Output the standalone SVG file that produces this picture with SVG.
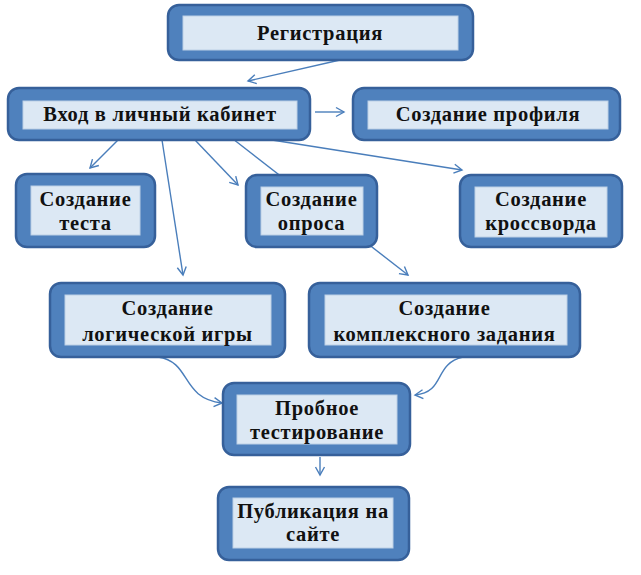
<svg xmlns="http://www.w3.org/2000/svg" width="641" height="575" viewBox="0 0 641 575">
<style>
.o{fill:#4f81bd;stroke:#36609a;stroke-width:2.5}
.i{fill:#dce8f4;stroke:#bcd0e6;stroke-width:1}
.t{font-weight:700;font-size:20.5px;letter-spacing:0.7px;fill:#111;text-anchor:middle}
.c{fill:none;stroke:#4a7ebb;stroke-width:1.4;marker-end:url(#a)}
</style>
<defs>
<marker id="a" markerUnits="userSpaceOnUse" markerWidth="12" markerHeight="12" refX="9" refY="5" orient="auto" viewBox="0 0 12 10">
<path d="M1,0.5 L9,5 L1,9.5" fill="none" stroke="#4a7ebb" stroke-width="1.4"/>
</marker>
</defs>
<rect width="641" height="575" fill="#fff"/>
<g id="connectors">
<line class="c" x1="340" y1="60" x2="248" y2="81"/>
<line class="c" x1="315" y1="112" x2="344" y2="112"/>
<line class="c" x1="118" y1="140" x2="90" y2="168"/>
<line class="c" x1="162" y1="140" x2="183" y2="275"/>
<line class="c" x1="195" y1="140" x2="238" y2="185"/>
<line class="c" x1="233" y1="139" x2="408" y2="275"/>
<line class="c" x1="272" y1="140" x2="462" y2="170"/>
<path class="c" d="M158,357 C192,362 180,398 222,403"/>
<path class="c" d="M463,357 C433,364 446,392 415,395"/>
<line class="c" x1="320" y1="457" x2="320" y2="475"/>
</g>
<g font-family="Liberation Serif, Times New Roman, serif">
<g id="n1"><rect class="o" x="168" y="5" width="305" height="55" rx="11"/><rect class="i" x="183" y="16" width="275" height="34"/><text class="t" font-family="Liberation Serif" x="320" y="40">Регистрация</text></g>
<g id="n2"><rect class="o" x="8" y="88" width="302" height="52" rx="11"/><rect class="i" x="23" y="101" width="274" height="28"/><text class="t" font-family="Liberation Serif" x="160" y="121">Вход в личный кабинет</text></g>
<g id="n3"><rect class="o" x="353" y="88" width="267" height="52" rx="11"/><rect class="i" x="368" y="101" width="240" height="28"/><text class="t" font-family="Liberation Serif" x="488" y="121">Создание профиля</text></g>
<g id="n4"><rect class="o" x="16" y="174" width="139" height="73" rx="11"/><rect class="i" x="31" y="186" width="109" height="49"/><text class="t" font-family="Liberation Serif" x="85.5" y="206">Создание</text><text class="t" font-family="Liberation Serif" x="85.5" y="230">теста</text></g>
<g id="n5"><rect class="o" x="246" y="175" width="131" height="72" rx="11"/><rect class="i" x="261" y="187" width="102" height="48"/><text class="t" font-family="Liberation Serif" x="311.5" y="206">Создание</text><text class="t" font-family="Liberation Serif" x="311.5" y="230">опроса</text></g>
<g id="n6"><rect class="o" x="460" y="175" width="162" height="72" rx="11"/><rect class="i" x="475" y="187" width="132" height="50"/><text class="t" font-family="Liberation Serif" x="541" y="206">Создание</text><text class="t" font-family="Liberation Serif" x="541" y="230">кроссворда</text></g>
<g id="n7"><rect class="o" x="50" y="283" width="235" height="74" rx="11"/><rect class="i" x="65" y="295" width="206" height="50"/><text class="t" font-family="Liberation Serif" x="167.5" y="315">Создание</text><text class="t" font-family="Liberation Serif" x="167.5" y="341">логической игры</text></g>
<g id="n8"><rect class="o" x="309" y="283" width="271" height="74" rx="11"/><rect class="i" x="325" y="295" width="242" height="50"/><text class="t" font-family="Liberation Serif" x="444.5" y="315">Создание</text><text class="t" font-family="Liberation Serif" x="444.5" y="341">комплексного задания</text></g>
<g id="n9"><rect class="o" x="223" y="383" width="187" height="72" rx="11"/><rect class="i" x="237" y="395" width="160" height="49"/><text class="t" font-family="Liberation Serif" x="317" y="415">Пробное</text><text class="t" font-family="Liberation Serif" x="317" y="439">тестирование</text></g>
<g id="n10"><rect class="o" x="218" y="487" width="191" height="73" rx="11"/><rect class="i" x="233" y="498" width="160" height="50"/><text class="t" font-family="Liberation Serif" x="313" y="518">Публикация на</text><text class="t" font-family="Liberation Serif" x="313" y="541">сайте</text></g>
</g>
</svg>
